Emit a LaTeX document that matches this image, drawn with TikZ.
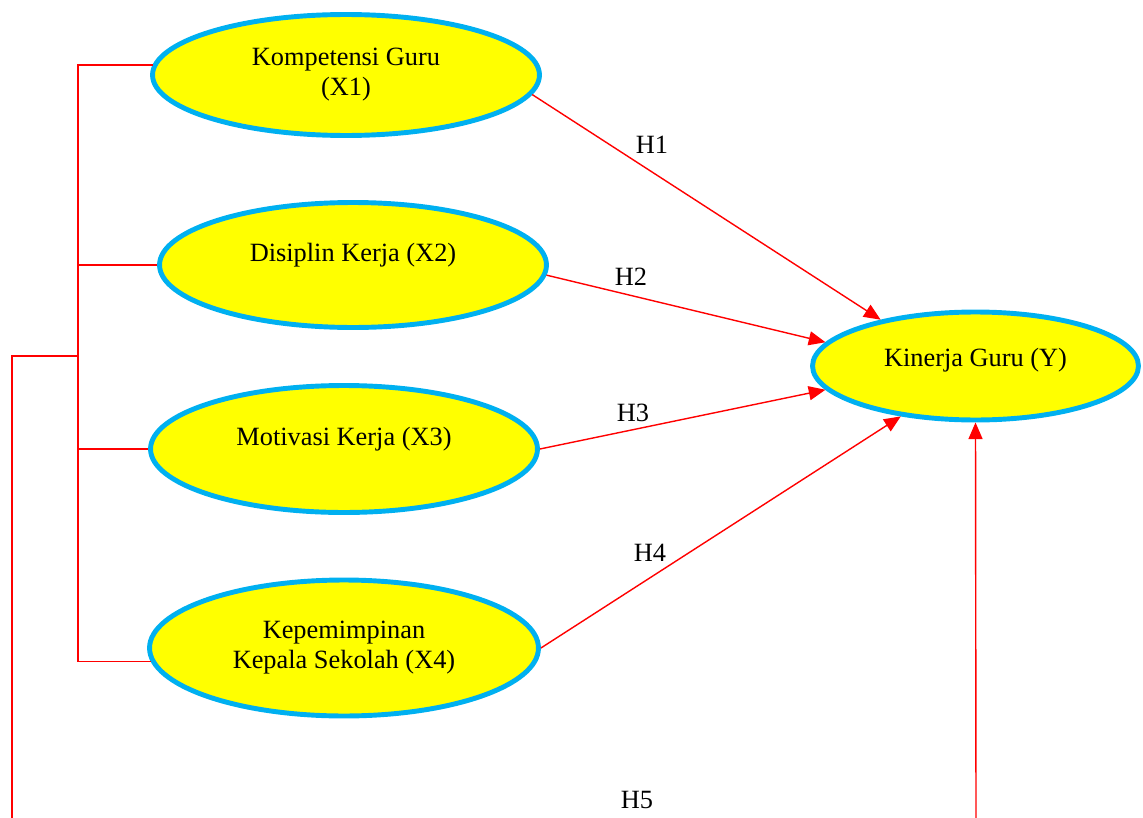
\documentclass[tikz,border=0pt]{standalone}
\usepackage{fontspec}
\setmainfont{Liberation Serif}
\usetikzlibrary{arrows.meta,shapes.geometric,positioning}
\definecolor{skyline}{HTML}{00B0F0}
\definecolor{ovalfill}{HTML}{FFFF00}
\tikzset{
  var/.style={ellipse,draw=skyline,line width=2.8pt,fill=ovalfill,align=center,
    inner sep=0pt,font=\fontsize{15}{17}\selectfont},
  link/.style={red,line width=0.8pt},
  hyp/.style={link,-{Triangle[length=9.5pt,width=8pt]}},
  hlabel/.style={font=\fontsize{15}{17}\selectfont}
}

\begin{document}
\begin{tikzpicture}[x=0.02cm,y=-0.02cm]
  \useasboundingbox (0,0) rectangle (1143,818);
  % constructs
  \node[var,minimum width=7.74cm,minimum height=2.42cm] (x1) at (346,75)
    {Kompetensi Guru\\(X1)};
  \node[var,minimum width=7.74cm,minimum height=2.5cm,text depth=14pt] (x2) at (353,265)
    {Disiplin Kerja (X2)};
  \node[var,minimum width=7.74cm,minimum height=2.54cm,text depth=14pt] (x3) at (344,449)
    {Motivasi Kerja (X3)};
  \node[var,minimum width=7.78cm,minimum height=2.72cm] (x4) at (344,648)
    {Kepemimpinan\\Kepala Sekolah (X4)};
  \node[var,minimum width=6.52cm,minimum height=2.16cm,text depth=10pt] (y) at (975.5,366)
    {Kinerja Guru (Y)};
  % bracket on the left
  \coordinate (bus) at (78,0);
  \coordinate (join) at (78,356);
  \coordinate (foot) at (12,818);
  \coordinate (rise) at (976,818);
  \draw[link] (x1.177) -- (x1.177 -| bus) -- (x4.184 -| bus) -- (x4.184);
  \draw[link] (x2.west) -- (x2.west -| bus);
  \draw[link] (x3.west) -- (x3.west -| bus);
  \draw[link] (join) -| (foot);
  % hypotheses
  \draw[hyp] (x1.-6) -- (y.154);
  \draw[hyp] (x2.-3) -- (y.171);
  \draw[hyp] (x3.east) -- (y.189);
  \draw[hyp] (x4.east) -- (y.214);
  \draw[hyp] (rise) -- (y.south);
  \node[hlabel] (h1) at (652,145) {H1};
  \node[hlabel] (h2) at (631,277) {H2};
  \node[hlabel] (h3) at (633,413) {H3};
  \node[hlabel] (h4) at (650,553) {H4};
  \node[hlabel] (h5) at (637,800) {H5};
\end{tikzpicture}
\end{document}
